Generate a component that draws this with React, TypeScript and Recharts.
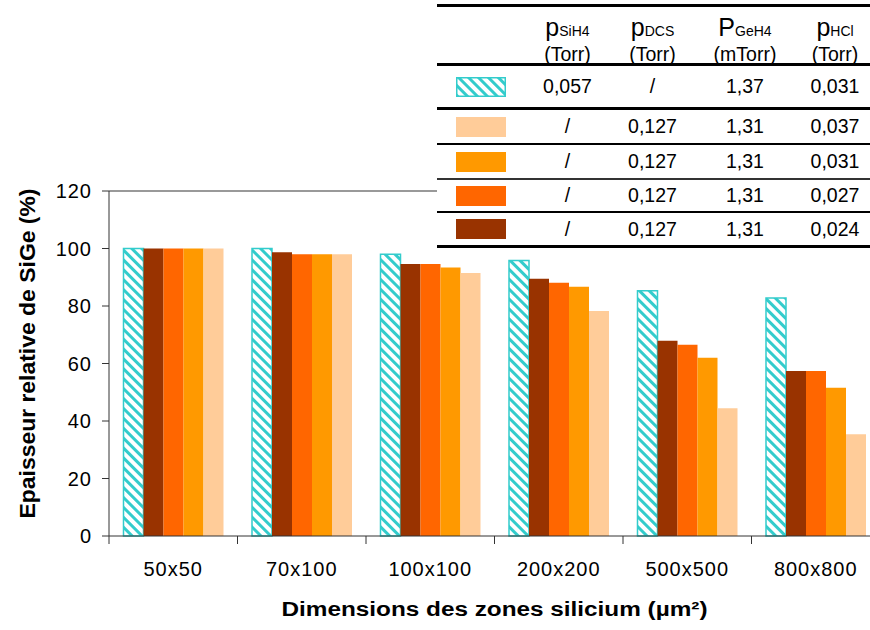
import React from 'react';
import { BarChart, Bar, XAxis, YAxis, ReferenceLine, Label } from 'recharts';

// sizes of the silicon windows
const categories = ['50x50', '70x100', '100x100', '200x200', '500x500', '800x800'];

// relative SiGe thickness (%), one array per deposition condition
const siH4 = [100, 100, 98.0, 95.8, 85.3, 82.8];
const hcl024 = [100, 98.7, 94.6, 89.5, 67.9, 57.4];
const hcl027 = [100, 98.0, 94.6, 88.1, 66.5, 57.4];
const hcl031 = [100, 98.0, 93.4, 86.7, 62.0, 51.6];
const hcl037 = [100, 98.0, 91.5, 78.3, 44.4, 35.4];

const yTicks = [0, 20, 40, 60, 80, 100, 120];

// table used as legend
const tableHeads = [
  { main: 'p', sub: 'SiH4', unit: '(Torr)' },
  { main: 'p', sub: 'DCS', unit: '(Torr)' },
  { main: 'P', sub: 'GeH4', unit: '(mTorr)' },
  { main: 'p', sub: 'HCl', unit: '(Torr)' },
];
const rowSwatches = ['hatch', '#FFCC99', '#FF9900', '#FF6600', '#993300'];
const colSiH4 = ['0,057', '/', '/', '/', '/'];
const colDCS = ['/', '0,127', '0,127', '0,127', '0,127'];
const colGeH4 = ['1,37', '1,31', '1,31', '1,31', '1,31'];
const colHCl = ['0,031', '0,037', '0,031', '0,027', '0,024'];

const FONT = 'Arial, "Liberation Sans", Helvetica, sans-serif';
const CYAN = '#33CCCC';
const AXIS = '#333';

const data = categories.map((name, i) => ({
  name,
  siH4: siH4[i],
  hcl024: hcl024[i],
  hcl027: hcl027[i],
  hcl031: hcl031[i],
  hcl037: hcl037[i],
}));

const series = [
  { key: 'siH4', fill: 'url(#hatch)', stroke: CYAN },
  { key: 'hcl024', fill: '#993300' },
  { key: 'hcl027', fill: '#FF6600' },
  { key: 'hcl031', fill: '#FF9900' },
  { key: 'hcl037', fill: '#FFCC99' },
];

const colWidths = [88, 85, 85, 100, 80];
const rowHeights = [41, 33, 33, 31, 32];
const rowBorders = ['3px solid #000', '2px solid #000', '2px solid #333', '2px solid #000', '3px solid #000'];

// category label + tick mark on the left boundary of each category
const CatTick = (props: any) => {
  const { x, y, payload } = props;
  const half = payload && typeof payload.offset === 'number' ? payload.offset : 0;
  const axisY = y - 26;
  return (
    <g>
      {half > 0 && <line x1={x - half} x2={x - half} y1={axisY} y2={axisY + 8} stroke={AXIS} />}
      <text x={x} y={y} dy="0.71em" textAnchor="middle" fontFamily={FONT} fontSize={20} letterSpacing={1} fill="#000">
        {payload.value}
      </text>
    </g>
  );
};

const YTitle = (props: any) => {
  const vb = props.viewBox;
  const cx = vb.x + 26;
  const cy = vb.y + vb.height / 2 - 10;
  return (
    <text
      x={cx}
      y={cy}
      transform={`rotate(-90 ${cx} ${cy})`}
      textAnchor="middle"
      fontFamily={FONT}
      fontWeight="bold"
      fontSize={22}
      textLength={330}
      lengthAdjust="spacingAndGlyphs"
      fill="#000"
    >
      Epaisseur relative de SiGe (%)
    </text>
  );
};

const XTitle = (props: any) => {
  const vb = props.viewBox;
  return (
    <text
      x={vb.x + vb.width / 2}
      y={vb.y + 80}
      textAnchor="middle"
      fontFamily={FONT}
      fontWeight="bold"
      fontSize={20}
      textLength={426}
      lengthAdjust="spacingAndGlyphs"
      fill="#000"
    >
      Dimensions des zones silicium (µm²)
    </text>
  );
};

const Swatch = ({ fill }: { fill: string }) => (
  <svg width={50} height={20} style={{ display: 'block', margin: '0 auto' }}>
    {fill === 'hatch' ? (
      <rect x={0.75} y={0.75} width={48.5} height={18.5} fill="url(#hatch)" stroke={CYAN} strokeWidth={1.5} />
    ) : (
      <rect x={0} y={0} width={50} height={20} fill={fill} />
    )}
  </svg>
);

const LegendTable = () => {
  const cols = [colSiH4, colDCS, colGeH4, colHCl];
  return (
    <div style={{ position: 'absolute', left: 437, top: 4, width: 440, fontFamily: FONT, color: '#000', background: '#fff' }}>
      <div style={{ borderTop: '3px solid #000', borderBottom: '3px solid #000', height: 56, display: 'flex' }}>
        <div style={{ width: colWidths[0] }} />
        {tableHeads.map((h, i) => (
          <div key={i} style={{ width: colWidths[i + 1], textAlign: 'center', paddingTop: 8 }}>
            <div style={{ fontSize: 25, lineHeight: '24px' }}>
              {h.main}
              <span style={{ fontSize: 14 }}>{h.sub}</span>
            </div>
            <div style={{ fontSize: 19.5, lineHeight: '22px' }}>{h.unit}</div>
          </div>
        ))}
      </div>
      {rowSwatches.map((sw, r) => (
        <div key={r} style={{ height: rowHeights[r], borderBottom: rowBorders[r], display: 'flex', alignItems: 'center' }}>
          <div style={{ width: colWidths[0] }}>
            <Swatch fill={sw} />
          </div>
          {cols.map((c, i) => (
            <div key={i} style={{ width: colWidths[i + 1], textAlign: 'center', fontSize: 19.5 }}>
              {c[r]}
            </div>
          ))}
        </div>
      ))}
    </div>
  );
};

export default function App() {
  return (
    <div style={{ position: 'absolute', left: 0, top: 0, width: 870, height: 630, overflow: 'hidden', background: '#fff' }}>
      <svg width={0} height={0} style={{ position: 'absolute' }}>
        <defs>
          <pattern id="hatch" patternUnits="userSpaceOnUse" width={7} height={7} patternTransform="rotate(-45)">
            <rect x={0} y={0} width={7} height={7} fill="#fff" />
            <rect x={0} y={0} width={3} height={7} fill={CYAN} />
          </pattern>
        </defs>
      </svg>
      <BarChart
        width={900}
        height={630}
        data={data}
        margin={{ top: 191, right: 20, bottom: 10, left: 9 }}
        barCategoryGap={14.5}
        barGap={0}
      >
        <XAxis
          dataKey="name"
          height={84}
          tickLine={false}
          tickSize={0}
          tickMargin={26}
          axisLine={{ stroke: AXIS }}
          interval={0}
          tick={<CatTick />}
        >
          <Label content={<XTitle />} />
        </XAxis>
        <YAxis
          width={100}
          domain={[0, 120]}
          ticks={yTicks}
          interval={0}
          tickSize={7}
          tickMargin={10}
          axisLine={{ stroke: AXIS }}
          tickLine={{ stroke: AXIS }}
          tick={{ fontFamily: FONT, fontSize: 20, fill: '#000', letterSpacing: 1 }}
        >
          <Label content={<YTitle />} />
        </YAxis>
        <ReferenceLine y={120} stroke="#999" strokeWidth={2} />
        {series.map((s) => (
          <Bar
            key={s.key}
            dataKey={s.key}
            fill={s.fill}
            stroke={s.stroke || 'none'}
            strokeWidth={s.stroke ? 1.5 : 0}
            isAnimationActive={false}
          />
        ))}
      </BarChart>
      <LegendTable />
    </div>
  );
}
